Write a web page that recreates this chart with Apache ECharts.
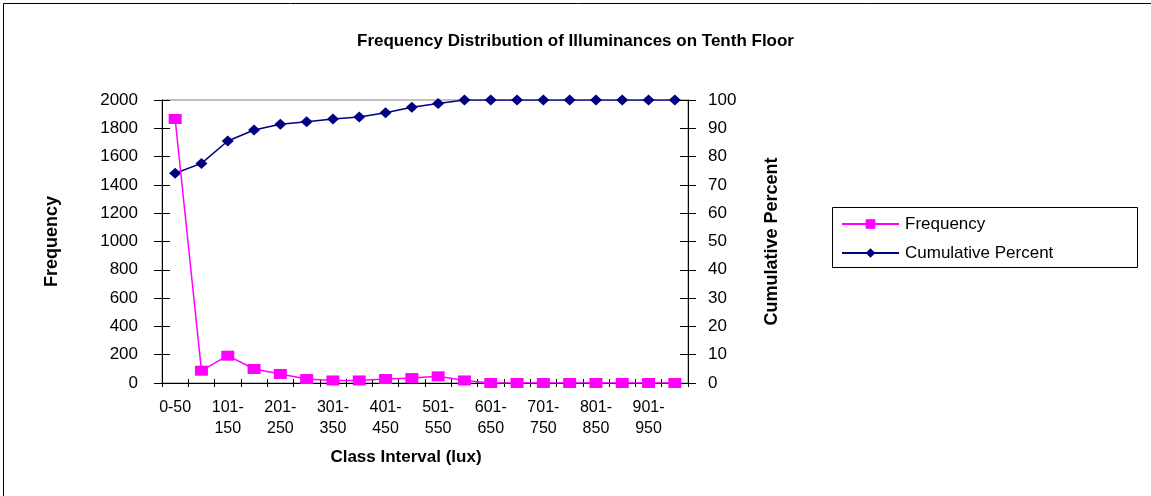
<!DOCTYPE html>
<html lang="en">
<head>
	<meta charset="UTF-8">
	<title>Frequency Distribution of Illuminances on Tenth Floor</title>
	<style>
		html, body { margin: 0; padding: 0; background: #fff; }
	</style>
</head>
<body>
	<div id="container" style="width: 1151px;height:496px;"></div>

	<script src="https://cdn.jsdelivr.net/npm/echarts@6/dist/echarts.min.js"></script>
	<script>
        var categories = ['0-50', '51-100', '101-150', '151-200', '201-250', '251-300', '301-350', '351-400',
            '401-450', '451-500', '501-550', '551-600', '601-650', '651-700', '701-750', '751-800',
            '801-850', '851-900', '901-950', '951-1000'];
        var frequency = [1866, 87, 193, 99, 64, 28, 18, 18, 28, 35, 47, 18, 0, 0, 0, 0, 0, 0, 0, 0];
        var cumulativePercent = [74.1, 77.6, 85.5, 89.4, 91.4, 92.3, 93.3, 94.0, 95.5, 97.4, 98.8, 100,
            100, 100, 100, 100, 100, 100, 100, 100];
        var freqTicks = { min: 0, max: 2000, interval: 200 };
        var pctTicks = { min: 0, max: 100, interval: 10 };

        var font = "'Liberation Sans', Arial, sans-serif";

        // excel style ticks cross the axis line: second axis draws the inner half
        function tickOnly(base) {
            return Object.assign({
                axisLine: { show: false },
                axisLabel: { show: false },
                splitLine: { show: false },
                axisTick: { show: true, inside: true, length: 8, lineStyle: { color: '#000' } }
            }, base);
        }

        var option = {
            animation: false,
            title: {
                text: 'Frequency Distribution of Illuminances on Tenth Floor',
                left: 'center',
                top: 33,
                padding: 0,
                textStyle: { fontFamily: font, fontSize: 17, fontWeight: 'bold', color: '#000' }
            },
            grid: {
                left: 162, right: 463, top: 100, bottom: 113,
                show: true, borderColor: '#808080', borderWidth: 1
            },
            legend: {
                orient: 'vertical',
                left: 841,
                top: 213,
                padding: 0,
                itemWidth: 57,
                itemHeight: 12,
                itemGap: 7,
                textStyle: { fontFamily: font, fontSize: 17, color: '#000', lineHeight: 22, padding: [0, 0, 0, 1] },
                data: ['Frequency', 'Cumulative Percent']
            },
            graphic: [
                {
                    type: 'rect', silent: true, z: -1,
                    shape: { x: 832.5, y: 207.5, width: 305, height: 60 },
                    style: { fill: null, stroke: '#000', lineWidth: 1 }
                },
                {
                    type: 'rect', silent: true, z: -1,
                    shape: { x: 3.5, y: 3.5, width: 1300, height: 700 },
                    style: { fill: null, stroke: '#000', lineWidth: 1 }
                }
            ],
            xAxis: [
                {
                    type: 'category',
                    data: categories,
                    position: 'bottom',
                    name: 'Class Interval (lux)',
                    nameLocation: 'middle',
                    nameGap: 66,
                    nameTextStyle: { fontFamily: font, fontSize: 17, fontWeight: 'bold', color: '#000', padding: [0, 38, 0, 0] },
                    axisLine: { lineStyle: { color: '#000', width: 1 } },
                    axisTick: { show: true, interval: 0, length: 4, lineStyle: { color: '#000' } },
                    axisLabel: {
                        interval: 1,
                        margin: 14,
                        fontFamily: font, fontSize: 16, color: '#000', lineHeight: 21,
                        formatter: function (v) { return v.length > 4 ? v.replace('-', '-\n') : v; }
                    },
                    splitLine: { show: false }
                },
                tickOnly({
                    type: 'category', data: categories, position: 'bottom',
                    axisTick: { show: true, inside: true, interval: 0, length: 4, lineStyle: { color: '#000' } }
                })
            ],
            yAxis: [
                {
                    type: 'value',
                    position: 'left',
                    min: freqTicks.min, max: freqTicks.max, interval: freqTicks.interval,
                    name: 'Frequency',
                    nameLocation: 'middle',
                    nameGap: 101,
                    nameRotate: 90,
                    nameTextStyle: { fontFamily: font, fontSize: 18, fontWeight: 'bold', color: '#000' },
                    axisLine: { show: true, lineStyle: { color: '#000', width: 1 } },
                    axisTick: { show: true, length: 8, lineStyle: { color: '#000' } },
                    axisLabel: {
                        margin: 24, fontFamily: font, fontSize: 17, color: '#000',
                        formatter: function (v) { return String(v); }
                    },
                    splitLine: { show: false }
                },
                {
                    type: 'value',
                    position: 'right',
                    min: pctTicks.min, max: pctTicks.max, interval: pctTicks.interval,
                    name: 'Cumulative Percent',
                    nameLocation: 'middle',
                    nameGap: 75,
                    nameRotate: 90,
                    nameTextStyle: { fontFamily: font, fontSize: 18, fontWeight: 'bold', color: '#000' },
                    axisLine: { show: true, lineStyle: { color: '#000', width: 1 } },
                    axisTick: { show: true, length: 8, lineStyle: { color: '#000' } },
                    axisLabel: {
                        margin: 20, fontFamily: font, fontSize: 17, color: '#000',
                        formatter: function (v) { return String(v); }
                    },
                    splitLine: { show: false }
                },
                tickOnly({ type: 'value', position: 'left', min: freqTicks.min, max: freqTicks.max, interval: freqTicks.interval }),
                tickOnly({ type: 'value', position: 'right', min: pctTicks.min, max: pctTicks.max, interval: pctTicks.interval })
            ],
            series: [
                {
                    name: 'Frequency',
                    type: 'line',
                    xAxisIndex: 0,
                    yAxisIndex: 0,
                    data: frequency,
                    symbol: 'rect',
                    symbolSize: [13, 10],
                    showAllSymbol: true,
                    itemStyle: { color: '#FF00FF' },
                    lineStyle: { color: '#FF00FF', width: 1.5 },
                    z: 3
                },
                {
                    name: 'Cumulative Percent',
                    type: 'line',
                    xAxisIndex: 0,
                    yAxisIndex: 1,
                    data: cumulativePercent,
                    symbol: 'diamond',
                    symbolSize: [12, 11],
                    showAllSymbol: true,
                    itemStyle: { color: '#000080' },
                    lineStyle: { color: '#000080', width: 1.5 },
                    z: 2
                }
            ]
        };
        var myChart = echarts.init(document.getElementById('container'));
        myChart.setOption(option);
    </script>
</body>
</html>
